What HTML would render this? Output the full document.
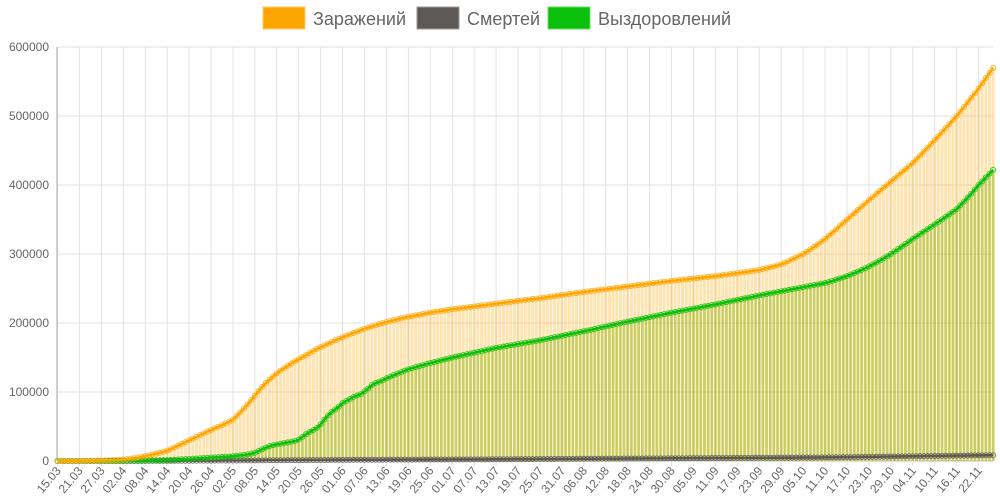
<!DOCTYPE html>
<html><head><meta charset="utf-8"><style>
html,body{margin:0;padding:0;background:#fff;width:1000px;height:500px;overflow:hidden}
svg{display:block;font-family:"Liberation Sans",Roboto,sans-serif}
</style></head><body>
<svg id="chart" width="1000" height="500" viewBox="0 0 1000 500">
<g>
<g><rect x="263" y="7" width="42" height="22" fill="#ffa500" stroke="#ffcc66" stroke-width="1"/><text x="313" y="25" font-size="18" fill="#666">Заражений</text></g>
<g><rect x="417" y="7" width="42" height="22" fill="#5e5856" stroke="#999" stroke-width="1"/><text x="467" y="25" font-size="18" fill="#666">Смертей</text></g>
<g><rect x="548" y="7" width="42" height="22" fill="#0ac00a" stroke="#66dd66" stroke-width="1"/><text x="598" y="25" font-size="18" fill="#666">Выздоровлений</text></g>
</g>
<g id="grid"></g>
<g id="bars"></g>
<g id="lines"></g>
<g id="axes"></g>
</svg>
<script>
const startDay = 15, startMonth = 3;
const yTicks = [0,100000,200000,300000,400000,500000,600000];
const infected = [0,0.01,0.02,0.03,0.05,0.07,0.1,0.15,0.2,0.3,0.4,0.5,0.6,0.8,1.0,1.2,1.5,1.8,2.2,
2.8,3.5,4.2,5.0,6.0,7.0,8.2,9.4,10.7,12.0,13.5,15.0,17.3,19.7,22.2,24.8,27.4,30.0,
32.5,35.0,37.5,40.0,42.5,45.0,47.3,49.6,52.0,54.5,57.0,60.0,65,70.5,76,82,88.5,95,
101.5,107.5,113,118,122.5,127,131,134.5,138,141.5,144.5,147.5,150.5,153.5,156.5,159.5,162.5,165,
167.5,170,172.5,175,177.2,179.4,181.5,183.6,185.7,187.7,189.7,191.6,193.4,195.1,196.8,198.4,199.9,201.4,
202.8,204.1,205.4,206.7,207.9,209,210,211,212,213,214,215,215.9,216.7,217.5,218.3,219.1,220,
220.7,221.3,222,222.7,223.3,224,224.7,225.3,226,226.7,227.3,228,
228.7,229.3,230,230.7,231.3,232,232.7,233.3,234,234.7,235.3,236,
236.8,237.5,238.3,239,239.8,240.5,241.3,242,242.8,243.5,244.3,245,
245.7,246.3,247,247.7,248.3,249,249.7,250.3,251,251.7,252.3,253,
253.7,254.3,255,255.7,256.3,257,257.7,258.3,259,259.7,260.3,261,
261.6,262.2,262.8,263.3,263.9,264.5,265.1,265.7,266.3,266.8,267.4,268,
268.7,269.4,270.2,270.9,271.6,272.3,273.1,273.8,274.5,275.3,276.1,277,
278.2,279.5,280.8,282.1,283.5,285,287.3,289.7,292.2,294.8,297.4,300,
303.3,306.8,310.4,314.2,318,322,326.5,331,335.5,340.5,345.3,350,
354.7,359.3,364,368.7,373.3,378,382.5,387,391.5,396,400.5,405,
409.5,414,418.5,423,427.5,432,437.5,443,448.5,454,459.5,465,
470.8,476.7,482.5,488.3,494.2,500,506.5,513,520,526.5,533,540,547.5,555,562.5,570];
const recovered = [0,0,0,0,0,0,0,0,0,0,0,0,0,0.05,0.1,0.15,0.2,0.25,0.3,0.35,0.4,0.45,0.5,0.6,0.7,
0.8,0.9,1.0,1.1,1.2,1.3,1.6,1.9,2.2,2.5,2.8,3.1,3.4,3.7,4.0,4.3,4.6,5.0,5.3,5.6,6.0,6.3,6.6,7.0,
7.6,8.2,8.8,9.6,10.6,12,14.5,17,19.5,21.5,23,24,25,26,27,28,29,31,35,39,42,45,48,53,
60,66,71,75,79,84,87,90,93,95,97,101,105,110,113,115,117,120,
122.2,124.4,126.6,128.8,131,133,134.5,136,137.5,139,140.5,142,143.3,144.6,146,147.3,148.6,150,
151.2,152.3,153.5,154.7,155.8,157,158.2,159.3,160.5,161.7,162.8,164,
164.9,165.8,166.8,167.7,168.6,169.5,170.4,171.3,172.3,173.2,174.1,175,
176.1,177.2,178.3,179.3,180.4,181.5,182.6,183.7,184.8,185.8,186.9,188,
189.2,190.3,191.5,192.7,193.8,195,196.2,197.3,198.5,199.7,200.8,202,
203.1,204.2,205.3,206.3,207.4,208.5,209.6,210.7,211.8,212.8,213.9,215,
216,217,218,219,220,221,222,223,224,225,226,227,
228.1,229.2,230.3,231.3,232.4,233.5,234.6,235.7,236.8,237.8,238.9,240,
241,242,243,244,245,246,247,248,249,250,251,252,253,254,255,256,257,258,
259.5,261,262.8,264.5,266.2,268,270.2,272.4,274.6,276.9,279.4,282,
284.8,287.7,290.6,293.6,296.8,300,303.6,307.2,310.8,314.5,318.2,322,
325.5,329,332.5,336,339.5,343,346.6,350.2,353.9,357.6,361.3,365,
370.5,376,381.7,387.5,393.7,400,405.5,411,416.5,422];
const deaths = [0,0,0,0,0,0,0,0,0,0,0,0,0,0,0,0,0.01,0.02,0.03,0.04,0.05,0.06,0.07,0.08,0.09,0.1,0.12,0.14,0.16,0.18,
0.21,0.24,0.27,0.3,0.33,0.36,0.39,0.42,0.45,0.48,0.51,0.54,0.57,0.6,0.63,0.66,0.69,0.72,0.75,0.78,0.81,0.84,0.87,0.9,0.93,0.96,0.99,1.02,1.05,1.08,
1.1,1.13,1.16,1.19,1.22,1.25,1.28,1.31,1.34,1.37,1.4,1.43,1.46,1.49,1.52,1.55,1.58,1.61,1.64,1.67,
1.7,1.72,1.74,1.76,1.78,1.8,1.82,1.84,1.86,1.88,1.9,1.92,1.94,1.96,1.98,2.0,2.02,2.04,2.06,2.08,
2.1,2.12,2.14,2.16,2.18,2.2,2.22,2.24,2.26,2.28,2.3,2.32,2.34,2.36,2.38,2.4,2.42,2.44,2.46,2.48,
2.5,2.53,2.56,2.59,2.62,2.65,2.68,2.71,2.74,2.77,2.8,2.83,2.86,2.89,2.92,2.95,2.98,3.01,3.04,3.07,
3.1,3.13,3.16,3.19,3.22,3.25,3.28,3.31,3.34,3.37,3.4,3.43,3.46,3.49,3.52,3.55,3.58,3.61,3.64,3.67,
3.7,3.73,3.76,3.79,3.82,3.85,3.88,3.91,3.94,3.97,4.0,4.03,4.06,4.09,4.12,4.15,4.18,4.21,4.24,4.27,
4.3,4.33,4.36,4.39,4.42,4.45,4.48,4.51,4.54,4.57,4.6,4.63,4.66,4.69,4.72,4.75,4.78,4.81,4.84,4.87,
4.9,4.93,4.96,4.99,5.02,5.05,5.08,5.11,5.14,5.17,
5.2,5.27,5.34,5.41,5.48,5.55,5.62,5.69,5.76,5.83,5.9,5.97,6.04,6.11,6.18,6.25,6.32,6.39,6.46,6.53,
6.6,6.67,6.74,6.81,6.88,6.95,7.02,7.09,7.16,7.23,7.3,7.37,7.44,7.51,7.58,7.65,7.72,7.79,7.86,7.93,
8.0,8.07,8.14,8.21,8.28,8.35,8.42];
const VALUE_SCALE = 1000; // arrays are in thousands

const NS = "http://www.w3.org/2000/svg";
const L = 57, R = 993, T = 47, B = 461;
const N = infected.length;
const step = 3.655;
function xPos(i){ return L + 0.5 + i*step; }
function yPos(v){ return B - (v*VALUE_SCALE/600000)*(B-T); }
function mk(tag, attrs, parent){ const e=document.createElementNS(NS,tag); for(const k in attrs) e.setAttribute(k,attrs[k]); parent.appendChild(e); return e; }
const dates=[]; { const d=new Date(2020,startMonth-1,startDay); for(let i=0;i<N;i++){ const dd=new Date(d.getTime()+i*86400000); dates.push(String(dd.getDate()).padStart(2,'0')+'.'+String(dd.getMonth()+1).padStart(2,'0')); } }

const grid=document.getElementById('grid'), axes=document.getElementById('axes');
yTicks.forEach(t=>{
  const y=yPos(t/VALUE_SCALE);
  const g=mk('line',{x1:L,x2:R,y1:y,y2:y,stroke:t===0?'#bbb':'#e2e2e2','stroke-width':1},grid);
  
  
  const tx=mk('text',{x:L-8,y:y+4,'text-anchor':'end','font-size':12,fill:'#666'},axes);
  
  
  tx.textContent=t;
});
for(let i=0;i<N;i+=6){
  const x=xPos(i);
  const g=mk('line',{x1:x,x2:x,y1:T,y2:B+5,stroke:'#e2e2e2','stroke-width':1},grid);
  
  
  const tx=mk('text',{x:x+4,y:B+10,'text-anchor':'end','font-size':12,fill:'#666',transform:`rotate(-50 ${x+4} ${B+10})`},axes);
  
  
  tx.textContent=dates[i];
}
const ax=mk('line',{x1:L,x2:L,y1:T,y2:B,stroke:'#aaa','stroke-width':1},axes);



const bars=document.getElementById('bars');
for(let i=0;i<N;i++){
  const x=xPos(i);
  const yi=yPos(infected[i]);
  const b=mk('rect',{x:x-1.5,y:yi,width:3,height:B-yi,fill:'rgba(255,165,0,0.3)'},bars);
  
  
  const yr=yPos(recovered[i]);
  const g=mk('rect',{x:x-1.3,y:yr,width:2.6,height:B-yr,fill:'rgba(150,185,20,0.5)'},bars);
  
  
}
const lines=document.getElementById('lines');
function series(arr,color,name){
  const pts=arr.map((v,i)=>xPos(i).toFixed(2)+','+yPos(v).toFixed(2)).join(' ');
  const pl=mk('polyline',{points:pts,fill:'none',stroke:color,'stroke-width':2.5},lines);
  
  
  arr.forEach((v,i)=>{
    const c=mk('circle',{cx:xPos(i),cy:yPos(v),r:2.5,fill:'none',stroke:color,'stroke-width':1,opacity:0.8},lines);
    
    
  });
}
series(deaths,'#5e5856','deaths');
series(recovered,'#0ac00a','recovered');
series(infected,'#ffa500','infected');
</script>
</body></html>
